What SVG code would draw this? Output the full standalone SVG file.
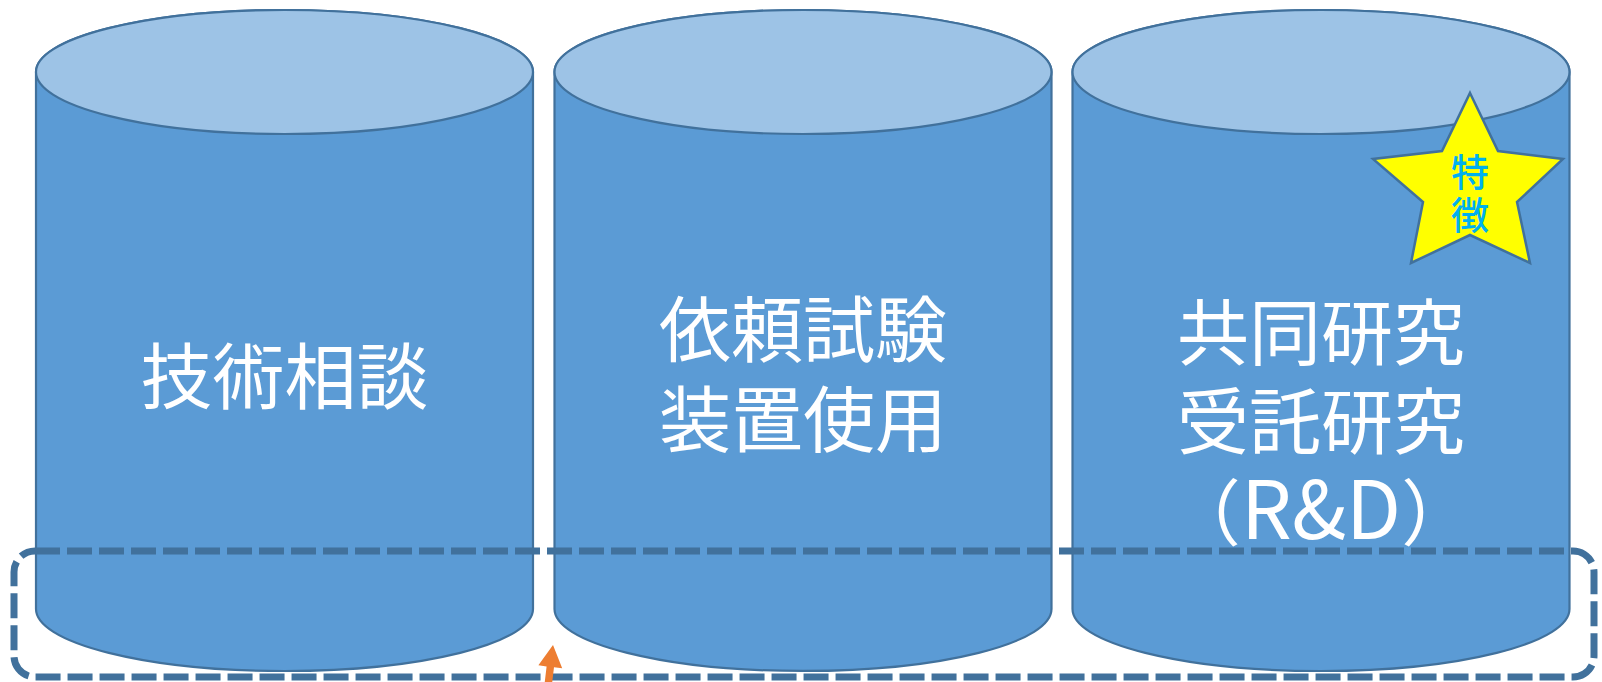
<svg xmlns="http://www.w3.org/2000/svg" width="1602" height="682" viewBox="0 0 1602 682">
<style>
.body{fill:#5B9BD5;stroke:#41719C;stroke-width:2.2}
.top{fill:#9DC3E6;stroke:#41719C;stroke-width:2.2}
.lbl{font-family:"Noto Sans CJK JP","Noto Sans",sans-serif;font-size:72px;fill:#FFFFFF;text-anchor:middle}
.star{fill:#FFFF00;stroke:#41719C;stroke-width:2.5;stroke-linejoin:miter}
.startxt{font-family:"Noto Sans CJK JP","Noto Sans",sans-serif;font-size:38px;fill:#00B0F0;text-anchor:middle;font-weight:500}
.frame{fill:none;stroke:#41719C;stroke-width:7;stroke-dasharray:25 7}
.arrow{fill:#ED7D31}
</style>
<rect width="1602" height="682" fill="#FFFFFF"/>
<g id="node-consult">
<path class="body" d="M36,72 V609 A248.5,62 0 0 0 533,609 V72 A248.5,62 0 0 0 36,72 Z"/>
<ellipse class="top" cx="284.5" cy="72" rx="248.5" ry="62"/>
<text class="lbl" x="284.5" y="403">技術相談</text>
</g>
<g id="node-testing">
<path class="body" d="M554.5,72 V609 A248.5,62 0 0 0 1051.5,609 V72 A248.5,62 0 0 0 554.5,72 Z"/>
<ellipse class="top" cx="803" cy="72" rx="248.5" ry="62"/>
<text class="lbl" x="803" y="356">依頼試験</text>
<text class="lbl" x="803" y="446">装置使用</text>
</g>
<g id="node-research">
<path class="body" d="M1072.5,72 V609 A248.5,62 0 0 0 1569.5,609 V72 A248.5,62 0 0 0 1072.5,72 Z"/>
<ellipse class="top" cx="1321" cy="72" rx="248.5" ry="62"/>
<text class="lbl" x="1321" y="359">共同研究</text>
<text class="lbl" x="1321" y="448">受託研究</text>
<text class="lbl" x="1321" y="539">（<tspan font-size="80">R&amp;D</tspan>）</text>
</g>
<g id="node-feature">
<polygon class="star" points="1470,93 1498,151 1563,159 1517,202 1530,263 1470,235 1411,263 1423,202 1373,159 1442,151"/>
<text class="startxt" x="1470" y="186">特</text>
<text class="startxt" x="1470" y="229">徴</text>
</g>
<g id="node-frame">
<rect class="frame" x="14" y="551" width="1580" height="126" rx="21" ry="21"/>
</g>
<g id="connectors">
<polygon class="arrow" points="553,645 562.2,668.3 554,667.2 551.3,690 543.9,689.3 546.6,666.4 538.4,665.3"/>
</g>
</svg>
